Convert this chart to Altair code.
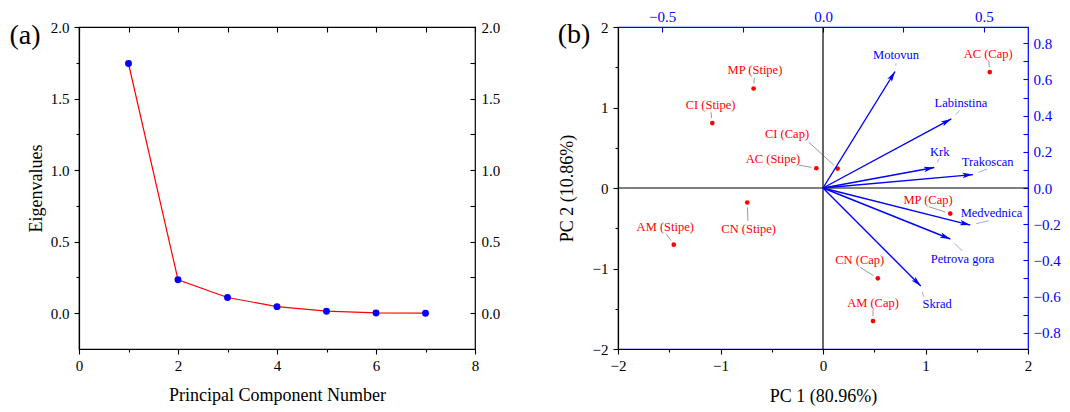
import math
import altair as alt
import pandas as pd

FONT = "Liberation Serif"
RED = "#ff0000"
BLUE = "#0000ff"

# ---------------- Panel (a): scree plot ----------------
pc_number = [1, 2, 3, 4, 5, 6, 7]
eigenvalues = [1.745, 0.234, 0.110, 0.046, 0.014, 0.002, 0.000]
x_ticks_a = [0, 1, 2, 3, 4, 5, 6, 7, 8]
y_ticks_a = [0.0, 0.25, 0.5, 0.75, 1.0, 1.25, 1.5, 1.75, 2.0]

# ---------------- Panel (b): biplot ----------------
sample_names = ["AC (Cap)", "MP (Stipe)", "CI (Stipe)", "CI (Cap)", "AC (Stipe)",
                "CN (Stipe)", "AM (Stipe)", "MP (Cap)", "CN (Cap)", "AM (Cap)"]
pc1_scores = [1.627, -0.677, -1.080, 0.143, -0.065, -0.739, -1.456, 1.241, 0.535, 0.488]
pc2_scores = [1.440, 1.236, 0.807, 0.241, 0.245, -0.180, -0.704, -0.318, -1.122, -1.653]
sample_label_x = [1.611, -0.664, -1.097, -0.351, -0.488, -0.726, -1.539, 1.025, 0.358, 0.488]
sample_label_y = [1.664, 1.460, 1.032, 0.665, 0.359, -0.510, -0.481, -0.147, -0.897, -1.427]
sample_leader_x = [1.617, -0.670, -1.093, -0.140, -0.238, -0.732, -1.529, 1.032, 0.364, 0.488]
sample_leader_y = [1.582, 1.370, 0.942, 0.571, 0.285, -0.408, -0.571, -0.232, -0.987, -1.517]

site_names = ["Motovun", "Labinstina", "Krk", "Trakoscan", "Medvednica", "Petrova gora", "Skrad"]
load_pc1 = [0.224, 0.399, 0.346, 0.466, 0.458, 0.396, 0.304]
load_pc2 = [0.644, 0.382, 0.113, 0.074, -0.205, -0.282, -0.542]
site_label_x = [0.227, 0.429, 0.363, 0.512, 0.524, 0.434, 0.355]
site_label_y = [0.735, 0.472, 0.201, 0.141, -0.136, -0.392, -0.639]
site_leader_x = [0.227, 0.425, 0.362, 0.510, 0.516, 0.433, 0.313]
site_leader_y = [0.689, 0.428, 0.163, 0.105, -0.181, -0.348, -0.602]

pc_ticks_b = [-2, -1.5, -1, -0.5, 0, 0.5, 1, 1.5, 2]
load_x_ticks = [-0.5, -0.25, 0.0, 0.25, 0.5]
load_y_ticks = [-0.8, -0.7, -0.6, -0.5, -0.4, -0.3, -0.2, -0.1, 0.0,
                0.1, 0.2, 0.3, 0.4, 0.5, 0.6, 0.7, 0.8]
load_x_lim = 0.6374
load_y_lim = 0.89
pc_lim = 2.0

panel_tags = ["(a)", "(b)"]

WA, HA = 396, 322
WB, HB = 410, 322


def cond(test, v_true, v_false):
    return {"condition": {"test": test, "value": v_true}, "value": v_false}


common_axis = dict(labelFont=FONT, labelFontSize=15, labelColor="black", labelFlush=False,
                   labelOverlap=False, grid=False, titleFont=FONT, titleFontSize=18,
                   titleFontWeight="normal", titleColor="black", tickWidth=1.1)

# ---------- panel (a) ----------
df_a = pd.DataFrame({"pc": pc_number, "eig": eigenvalues})
xs_a = alt.Scale(domain=[0, 8], nice=False, zero=False)
ys_a = alt.Scale(domain=[-0.25, 2.0], nice=False, zero=False)

ax_a_bottom = alt.Axis(values=x_ticks_a, labelExpr="datum.value % 2 == 0 ? datum.label : ''",
                       tickSize=cond("datum.value % 2 != 0", 3, 5), tickColor="black",
                       domainColor="black", domainWidth=1.2, labelPadding=4,
                       title="Principal Component Number", titlePadding=13, **common_axis)
ax_a_left = alt.Axis(values=y_ticks_a, format=".1f",
                     labelExpr="abs(datum.value*2 - round(datum.value*2)) > 0.01 ? '' : datum.label",
                     tickSize=cond("abs(datum.value*2 - round(datum.value*2)) > 0.01", 3, 5),
                     tickColor="black", domainColor="black", domainWidth=1.2, labelPadding=5,
                     title="Eigenvalues", titlePadding=5, **common_axis)
ax_a_top = alt.Axis(orient="top", values=x_ticks_a, labels=False, domain=False, offset=-5,
                    tickSize=5, tickColor="black", title=None, **common_axis)
ax_a_right = alt.Axis(orient="right", values=y_ticks_a, format=".1f",
                      labelExpr="abs(datum.value*2 - round(datum.value*2)) > 0.01 ? '' : datum.label",
                      domain=False, offset=-5, tickSize=5, tickColor="black", labelPadding=6,
                      title=None, **common_axis)

line_a = alt.Chart(df_a).mark_line(color=RED, strokeWidth=1.2).encode(
    x=alt.X("pc:Q", scale=xs_a, axis=ax_a_bottom),
    y=alt.Y("eig:Q", scale=ys_a, axis=ax_a_left),
)
pts_a = alt.Chart(df_a).mark_circle(color=BLUE, size=48, opacity=1).encode(
    x=alt.X("pc:Q", scale=xs_a, axis=ax_a_top),
    y=alt.Y("eig:Q", scale=ys_a, axis=ax_a_right),
)
tag_a = alt.Chart(pd.DataFrame({"t": [panel_tags[0]]})).mark_text(
    font=FONT, fontSize=28, align="center", baseline="middle", color="black"
).encode(x=alt.value(-54), y=alt.value(9), text="t:N")

chart_a = alt.layer(line_a, pts_a, tag_a).resolve_axis(
    x="independent", y="independent"
).properties(width=WA, height=HA, view=alt.ViewBackground(stroke="black", strokeWidth=1.2))

# ---------- panel (b) ----------
sxm, sym = WB / (2 * pc_lim), HB / (2 * pc_lim)
sxl, syl = WB / (2 * load_x_lim), HB / (2 * load_y_lim)


def starts(px, py, ex, ey, sx, sy, gap):
    ox, oy = [], []
    for a, b, c, d in zip(px, py, ex, ey):
        dx, dy = (c - a) * sx, (d - b) * sy
        dist = math.hypot(dx, dy)
        f = gap / dist if dist > 0 else 0
        ox.append(a + (c - a) * f)
        oy.append(b + (d - b) * f)
    return ox, oy


s_start_x, s_start_y = starts(pc1_scores, pc2_scores, sample_leader_x, sample_leader_y, sxm, sym, 5)
l_start_x, l_start_y = starts(load_pc1, load_pc2, site_leader_x, site_leader_y, sxl, syl, 6)
angles = [(math.degrees(math.atan2(a * sxl, b * syl)) + 360) % 360 for a, b in zip(load_pc1, load_pc2)]

df_s = pd.DataFrame({"name": sample_names, "x": pc1_scores, "y": pc2_scores,
                     "lx": sample_label_x, "ly": sample_label_y,
                     "sx": s_start_x, "sy": s_start_y, "ex": sample_leader_x, "ey": sample_leader_y})
df_l = pd.DataFrame({"name": site_names, "x": load_pc1, "y": load_pc2, "o": [0.0] * len(site_names),
                     "lx": site_label_x, "ly": site_label_y,
                     "sx": l_start_x, "sy": l_start_y, "ex": site_leader_x, "ey": site_leader_y,
                     "ang": angles})

xs_b = alt.Scale(domain=[-pc_lim, pc_lim], nice=False, zero=False)
ys_b = alt.Scale(domain=[-pc_lim, pc_lim], nice=False, zero=False)
xs_l = alt.Scale(domain=[-load_x_lim, load_x_lim], nice=False, zero=False)
ys_l = alt.Scale(domain=[-load_y_lim, load_y_lim], nice=False, zero=False)

ax_b_bottom = alt.Axis(orient="bottom", values=pc_ticks_b, format=".0f",
                       labelExpr="datum.value % 1 == 0 ? datum.label : ''",
                       tickSize=cond("datum.value % 1 != 0", 3, 5), tickColor="black",
                       domainColor="black", domainWidth=1.2, labelPadding=4,
                       title="PC 1 (80.96%)", titlePadding=14, **common_axis)
ax_b_left = alt.Axis(orient="left", values=pc_ticks_b, format=".0f",
                     labelExpr="datum.value % 1 == 0 ? datum.label : ''",
                     tickSize=cond("datum.value % 1 != 0", 3, 5), tickColor="black",
                     domainColor="black", domainWidth=1.2, labelPadding=5,
                     title="PC 2 (10.86%)", titlePadding=16, **common_axis)
blue_axis = dict(common_axis)
blue_axis["labelColor"] = BLUE
ax_b_top = alt.Axis(orient="top", values=load_x_ticks, format=".1f",
                    labelExpr="abs(datum.value*2 - round(datum.value*2)) > 0.01 ? '' : datum.label",
                    domain=False, offset=-5, tickSize=5, tickColor=BLUE, labelPadding=3,
                    title=None, **blue_axis)
ax_b_right = alt.Axis(orient="right", values=load_y_ticks, format=".1f",
                      labelExpr="abs(datum.value*5 - round(datum.value*5)) > 0.01 ? '' : datum.label",
                      domain=False, offset=-5, tickSize=5, tickColor=BLUE, labelPadding=5,
                      title=None, **blue_axis)

zero_df = pd.DataFrame({"v": [0.0]})
vrule = alt.Chart(zero_df).mark_rule(color="black", strokeWidth=1.2).encode(
    x=alt.X("v:Q", scale=xs_b, axis=ax_b_bottom))
hrule = alt.Chart(zero_df).mark_rule(color="black", strokeWidth=1.2).encode(
    y=alt.Y("v:Q", scale=ys_b, axis=ax_b_left))
base_s = alt.Chart(df_s)
lead_s = base_s.mark_rule(color="#555555", strokeWidth=0.6).encode(
    x=alt.X("sx:Q", scale=xs_b, axis=ax_b_bottom), x2="ex:Q",
    y=alt.Y("sy:Q", scale=ys_b, axis=ax_b_left), y2="ey:Q")
pts_s = base_s.mark_circle(color=RED, size=22, opacity=1).encode(
    x=alt.X("x:Q", scale=xs_b, axis=ax_b_bottom),
    y=alt.Y("y:Q", scale=ys_b, axis=ax_b_left))
txt_s = base_s.mark_text(font=FONT, fontSize=12.5, color=RED, align="center", baseline="middle").encode(
    x=alt.X("lx:Q", scale=xs_b, axis=ax_b_bottom),
    y=alt.Y("ly:Q", scale=ys_b, axis=ax_b_left), text="name:N")
tag_b = alt.Chart(pd.DataFrame({"t": [panel_tags[1]]})).mark_text(
    font=FONT, fontSize=28, align="center", baseline="middle", color="black"
).encode(x=alt.value(-44), y=alt.value(8), text="t:N")

main_b = alt.layer(vrule, hrule, lead_s, pts_s, txt_s, tag_b)

base_l = alt.Chart(df_l)
shaft = base_l.mark_rule(color=BLUE, strokeWidth=1.4).encode(
    x=alt.X("o:Q", scale=xs_l, axis=ax_b_top), x2="x:Q",
    y=alt.Y("o:Q", scale=ys_l, axis=ax_b_right), y2="y:Q")
head = base_l.mark_point(shape="M0,0L-0.55,2.1L0,1.6L0.55,2.1Z", filled=True, color=BLUE,
                         opacity=1, size=100, strokeWidth=0).encode(
    x=alt.X("x:Q", scale=xs_l, axis=ax_b_top),
    y=alt.Y("y:Q", scale=ys_l, axis=ax_b_right),
    angle=alt.Angle("ang:Q", scale=None))
lead_l = base_l.mark_rule(color="#5570ff", strokeWidth=0.6).encode(
    x=alt.X("sx:Q", scale=xs_l, axis=ax_b_top), x2="ex:Q",
    y=alt.Y("sy:Q", scale=ys_l, axis=ax_b_right), y2="ey:Q")
txt_l = base_l.mark_text(font=FONT, fontSize=12.5, color=BLUE, align="center", baseline="middle").encode(
    x=alt.X("lx:Q", scale=xs_l, axis=ax_b_top),
    y=alt.Y("ly:Q", scale=ys_l, axis=ax_b_right), text="name:N")

load_b = alt.layer(shaft, head, lead_l, txt_l)

chart_b = alt.layer(main_b, load_b).resolve_scale(
    x="independent", y="independent"
).properties(width=WB, height=HB, view=alt.ViewBackground(stroke=BLUE, strokeWidth=1.2))

chart = alt.hconcat(chart_a, chart_b, spacing=56).properties(
    padding={"left": 0, "top": 0, "right": 0, "bottom": 0}
).configure(font=FONT)

chart.save("out.html", embed_options={"renderer": "svg", "actions": False})
